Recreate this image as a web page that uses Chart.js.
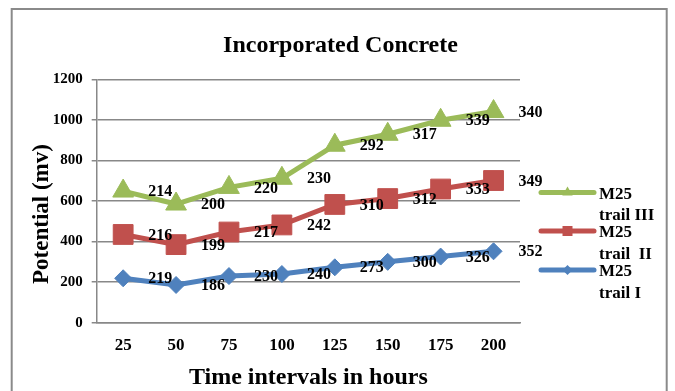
<!DOCTYPE html>
<html>
<head>
<meta charset="utf-8">
<script src="https://cdn.jsdelivr.net/npm/chart.js@4.4.1/dist/chart.umd.min.js"></script>
<style>
  html, body { margin: 0; padding: 0; background: #ffffff; }
  #wrap { width: 675px; height: 391px; }
</style>
</head>
<body>
<div id="wrap"><canvas id="c" width="675" height="391"></canvas></div>
<script>
// ---- data ----
const chartTitle = 'Incorporated Concrete';
const xTitle = 'Time intervals in hours';
const yTitle = 'Potential (mv)';
const categories = ['25', '50', '75', '100', '125', '150', '175', '200'];
const trailI = [219, 186, 230, 240, 273, 300, 326, 352];
const trailII = [216, 199, 217, 242, 310, 312, 333, 349];
const trailIII = [214, 200, 220, 230, 292, 317, 339, 340];
const seriesNames = [['M25', 'trail I'], ['M25', 'trail  II'], ['M25', 'trail III']];
const yTicks = [0, 200, 400, 600, 800, 1000, 1200];

const BLUE = '#4F81BD', RED = '#C0504D', GREEN = '#9BBB59';
const GRID = '#888888';
const FONT = "'Liberation Serif', 'Times New Roman', serif";

function drawMarker(ctx, style, x, y, r, color) {
  ctx.save();
  ctx.fillStyle = color;
  ctx.beginPath();
  if (style === 'triangle') {
    ctx.moveTo(x, y - r);
    ctx.lineTo(x + r * 0.866, y + r * 0.5);
    ctx.lineTo(x - r * 0.866, y + r * 0.5);
  } else if (style === 'rect') {
    ctx.rect(x - r, y - r, 2 * r, 2 * r);
  } else {
    ctx.moveTo(x - r, y); ctx.lineTo(x, y - r); ctx.lineTo(x + r, y); ctx.lineTo(x, y + r);
  }
  ctx.closePath();
  ctx.fill();
  ctx.restore();
}

const decorations = {
  id: 'decorations',
  afterDraw(chart) {
    const ctx = chart.ctx;
    ctx.save();
    // outer frame
    ctx.strokeStyle = '#8a8a8a';
    ctx.lineWidth = 2;
    ctx.strokeRect(11.7, 9, 655, 430);

    // title
    ctx.fillStyle = '#000';
    ctx.font = 'bold 24px ' + FONT;
    ctx.textAlign = 'center';
    ctx.textBaseline = 'alphabetic';
    ctx.fillText(chartTitle, 340.5, 52);

    // y title
    ctx.save();
    ctx.translate(47.5, 214);
    ctx.rotate(-Math.PI / 2);
    ctx.font = 'bold 23px ' + FONT;
    ctx.fillText(yTitle, 0, 0);
    ctx.restore();

    // data labels (right of each point)
    ctx.font = 'bold 16px ' + FONT;
    ctx.textAlign = 'center';
    ctx.textBaseline = 'middle';
    chart.data.datasets.forEach((ds, i) => {
      const meta = chart.getDatasetMeta(i);
      meta.data.forEach((pt, j) => {
        ctx.fillText(String(ds.data[j]), pt.x + 37, pt.y + 1);
      });
    });

    // legend
    const legend = [
      { ds: 2, y: 192.5, style: 'triangle', r: 6 },
      { ds: 1, y: 231, style: 'rect', r: 5 },
      { ds: 0, y: 270, style: 'rectRot', r: 5 }
    ];
    legend.forEach(it => {
      const ds = chart.data.datasets[it.ds];
      ctx.strokeStyle = ds.borderColor;
      ctx.lineWidth = 5;
      ctx.lineCap = 'round';
      ctx.beginPath();
      ctx.moveTo(541, it.y);
      ctx.lineTo(594, it.y);
      ctx.stroke();
      drawMarker(ctx, it.style, 567.5, it.y, it.r, ds.borderColor);
      ctx.fillStyle = '#000';
      ctx.font = 'bold 17px ' + FONT;
      ctx.textAlign = 'left';
      ctx.textBaseline = 'alphabetic';
      const lines = seriesNames[it.ds];
      ctx.fillText(lines[0], 599, it.y + 6);
      ctx.fillText(lines[1], 599, it.y + 27.5);
    });
    ctx.restore();
  }
};

new Chart(document.getElementById('c'), {
  type: 'line',
  data: {
    labels: categories,
    datasets: [
      { label: 'M25 trail I', data: trailI, borderColor: BLUE, backgroundColor: BLUE,
        pointStyle: 'rectRot', pointRadius: 8.5, pointBorderWidth: 1, pointBackgroundColor: BLUE, pointBorderColor: BLUE },
      { label: 'M25 trail II', data: trailII, borderColor: RED, backgroundColor: RED,
        pointStyle: 'rect', pointRadius: 14, pointBorderWidth: 1, pointBackgroundColor: RED, pointBorderColor: RED },
      { label: 'M25 trail III', data: trailIII, borderColor: GREEN, backgroundColor: GREEN,
        pointStyle: 'triangle', pointRadius: 12, pointBorderWidth: 1, pointBackgroundColor: GREEN, pointBorderColor: GREEN }
    ].map(d => Object.assign(d, { borderWidth: 5, tension: 0, fill: false }))
  },
  options: {
    responsive: false,
    animation: false,
    devicePixelRatio: 1,
    layout: { padding: { left: 20, right: 155, top: 79.3, bottom: 0 } },
    plugins: { legend: { display: false }, title: { display: false }, tooltip: { enabled: false } },
    scales: {
      x: {
        offset: true,
        grid: { display: false, drawTicks: false },
        border: { display: true, color: GRID, width: 1.5 },
        ticks: { color: '#000', font: { family: FONT, size: 17, weight: 'bold' }, padding: 13, maxRotation: 0 },
        title: { display: true, text: xTitle, color: '#000', font: { family: FONT, size: 24, weight: 'bold', lineHeight: 1 }, padding: { top: 0, bottom: 1 } },
        afterFit(s) { s.height = 68.3; }
      },
      y: {
        stacked: true,
        min: 0, max: 1200,
        afterBuildTicks(s) { s.ticks = yTicks.map(v => ({ value: v })); },
        grid: { color: GRID, lineWidth: 1.5, drawTicks: true, tickLength: 5, tickColor: GRID },
        border: { display: true, color: GRID, width: 1.5 },
        ticks: { color: '#000', font: { family: FONT, size: 15, weight: 'bold' }, padding: 9,
                 callback: v => String(v) },
        afterFit(s) { s.width = 76.7; }
      }
    }
  },
  plugins: [decorations]
});
</script>
</body>
</html>
